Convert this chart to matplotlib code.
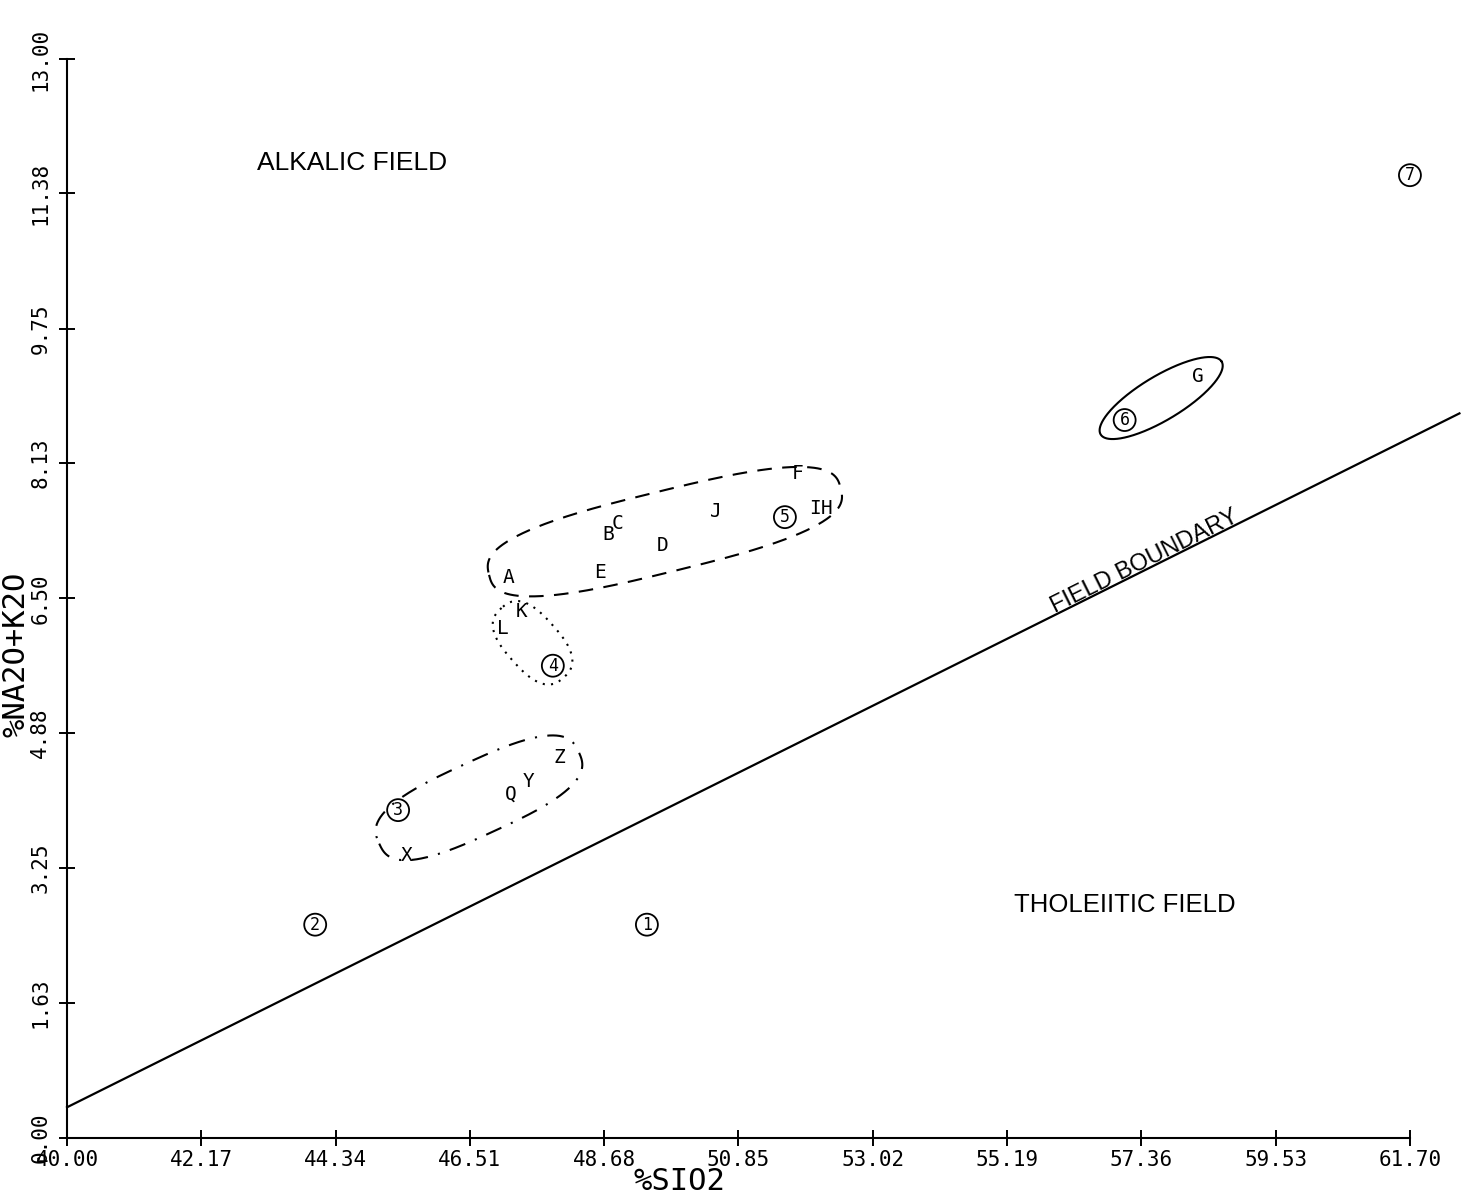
import numpy as np
import matplotlib
matplotlib.use("Agg")
import matplotlib.pyplot as plt

# sample points (%SiO2, %Na2O+K2O)
circled = ["1", "2", "3", "4", "5", "6", "7"]
circled_x = [49.37, 44.01, 45.35, 47.85, 51.60, 57.09, 61.70]
circled_y = [2.57, 2.57, 3.95, 5.69, 7.48, 8.65, 11.60]

letters = ["A", "B", "C", "D", "E", "F", "J", "I", "H", "G", "K", "L", "Z", "Y", "Q", "X"]
letters_x = [47.13, 48.74, 48.90, 49.63, 48.61, 51.80, 50.49, 52.08, 52.28, 58.27,
             47.35, 47.04, 47.95, 47.46, 47.17, 45.49]
letters_y = [6.75, 7.27, 7.40, 7.14, 6.81, 8.00, 7.55, 7.59, 7.59, 9.18,
             6.34, 6.14, 4.59, 4.30, 4.14, 3.40]

# alkalic / tholeiitic dividing line
boundary_x = [40.0, 62.5]
boundary_y = [0.37, 8.73]

xticks = [40.00, 42.17, 44.34, 46.51, 48.68, 50.85, 53.02, 55.19, 57.36, 59.53, 61.70]
yticks = [0.00, 1.63, 3.25, 4.88, 6.50, 8.13, 9.75, 11.38, 13.00]

# groups enclosed by loops: (members, linestyle, pad along, pad across, squareness)
groups = [
    (["A", "B", "C", "D", "E", "F", "J", "I", "H", "5"], (0, (7, 5)), 18, 16, 0.7),
    (["K", "L", "4"], (0, (1, 3)), 16, 14, 0.75),
    (["3", "X", "Q", "Y", "Z"], (0, (8, 5, 1, 5)), 20, 14, 0.7),
    (["6", "G"], "-", 28, 22, 1.0),
]

mono = "DejaVu Sans Mono"
sans = "Liberation Sans"

fig = plt.figure(figsize=(14.67, 11.99), dpi=100)
ax = fig.add_axes([0.0457, 0.0509, 0.9154, 0.8999])
ax.set_xlim(40, 61.70)
ax.set_ylim(0, 13)

for s in ["top", "right"]:
    ax.spines[s].set_visible(False)
for s in ["left", "bottom"]:
    ax.spines[s].set_linewidth(1.5)

ax.set_xticks(xticks)
ax.set_xticklabels(["%.2f" % v for v in xticks], family=mono, fontsize=15)
ax.set_yticks(yticks)
ax.set_yticklabels(["%.2f" % v for v in yticks], family=mono, fontsize=15,
                   rotation=90, va="center")
ax.tick_params(direction="inout", length=12, width=1.4)
ax.tick_params(axis="x", pad=3)
ax.tick_params(axis="y", pad=6)

ax.plot(boundary_x, boundary_y, color="black", lw=1.6, clip_on=False)

# circled numbers
ax.scatter(circled_x, circled_y, s=250, facecolors="none", edgecolors="black",
           linewidths=1.3, clip_on=False, zorder=3)
for t, x, y in zip(circled, circled_x, circled_y):
    ax.text(x, y, t, ha="center", va="center", family=mono, fontsize=12)

for t, x, y in zip(letters, letters_x, letters_y):
    ax.text(x, y, t, ha="center", va="center", family=mono, fontsize=14)

# loops drawn in display space around each group
pos = {}
for t, x, y in zip(circled, circled_x, circled_y):
    pos[t] = (x, y)
for t, x, y in zip(letters, letters_x, letters_y):
    pos[t] = (x, y)

th = np.linspace(0, 2 * np.pi, 400)
for members, ls, pad_a, pad_b, e in groups:
    pts = ax.transData.transform(np.array([pos[m] for m in members]))
    c = pts.mean(axis=0)
    d = pts - c
    if len(pts) > 2:
        w, v = np.linalg.eigh(d.T @ d)
        u = v[:, -1]
    else:
        u = d[-1] / np.linalg.norm(d[-1])
    n = np.array([-u[1], u[0]])
    pa = d @ u
    pb = d @ n
    mid = c + u * (pa.max() + pa.min()) / 2 + n * (pb.max() + pb.min()) / 2
    a = (pa.max() - pa.min()) / 2 + pad_a
    b = (pb.max() - pb.min()) / 2 + pad_b
    cx = np.sign(np.cos(th)) * np.abs(np.cos(th)) ** e
    sy = np.sign(np.sin(th)) * np.abs(np.sin(th)) ** e
    ring = mid + np.outer(a * cx, u) + np.outer(b * sy, n)
    ring = ax.transData.inverted().transform(ring)
    ax.plot(ring[:, 0], ring[:, 1], color="black", lw=1.5, linestyle=ls)

ax.text(44.6, 11.75, "ALKALIC FIELD", ha="center", va="center", fontsize=19,
        family=sans)
ax.text(57.1, 2.81, "THOLEIITIC FIELD", ha="center", va="center", fontsize=18.5,
        family=sans)
ax.text(57.42, 6.94, "FIELD BOUNDARY", ha="center", va="center", fontsize=17,
        family=sans, rotation=26.5, rotation_mode="anchor")

ax.set_xlabel("%SIO2", family=mono, fontsize=22)
ax.xaxis.set_label_coords(0.456, -0.027)
ax.set_ylabel("%NA2O+K2O", family=mono, fontsize=22)
ax.yaxis.set_label_coords(-0.027, 0.448)

fig.savefig("out.png", dpi=100, facecolor="white")
